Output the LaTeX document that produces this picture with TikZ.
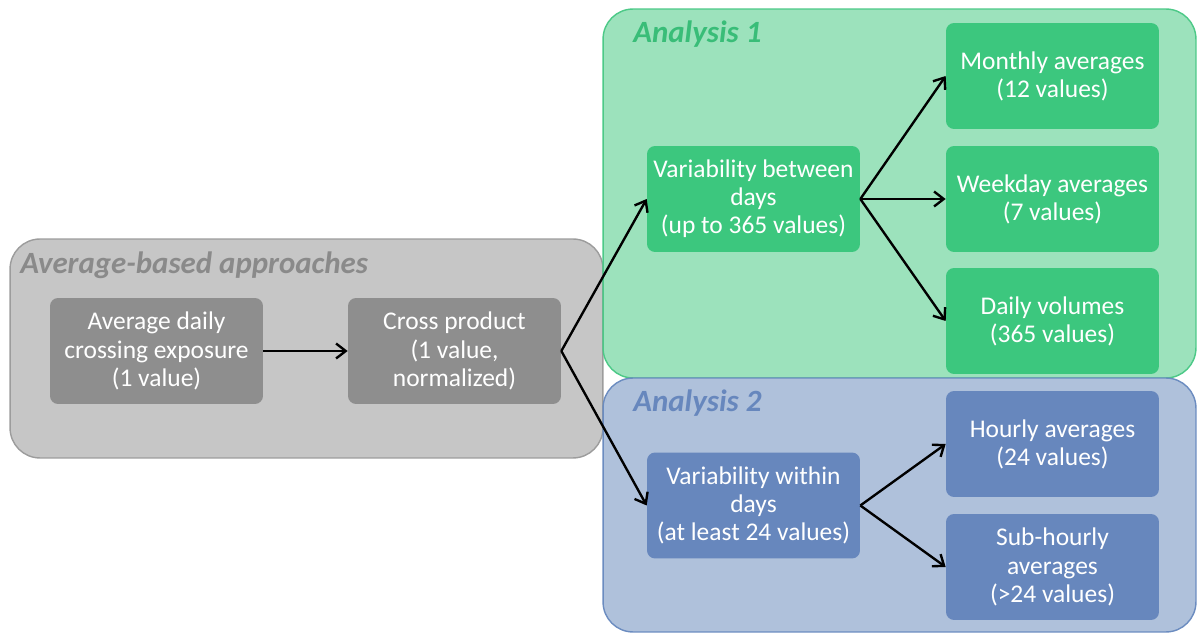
\documentclass[tikz,border=0pt]{standalone}
\usepackage{fontspec}
\setmainfont{Carlito}
\usepackage{xcolor}
\usepackage{tikz}
\usetikzlibrary{arrows.meta}

\definecolor{avgback}{HTML}{C6C6C6}
\definecolor{avgline}{HTML}{9C9C9C}
\definecolor{avgbox}{HTML}{8E8E8E}
\definecolor{avgtitle}{HTML}{8A8A8A}
\definecolor{onebox}{HTML}{3CC77E}
\definecolor{oneback}{HTML}{9CE2BC}
\definecolor{oneline}{HTML}{4CC987}
\definecolor{twobox}{HTML}{6787BD}
\definecolor{twoback}{HTML}{AFC1DB}
\definecolor{twoline}{HTML}{6B8CC0}

\begin{document}
\begin{tikzpicture}[x=0.02cm, y=-0.02cm,
    region/.style={draw, rounded corners=0.6cm, line width=0.8pt, inner sep=0pt, minimum width=11.86cm},
    box/.style={rounded corners=0.16cm, text=white, minimum width=4.26cm, minimum height=2.12cm,
      align=center, inner sep=2pt, font=\fontsize{14.5}{16}\selectfont},
    title/.style={anchor=west, inner sep=0pt, font=\fontsize{17.6}{20}\selectfont\bfseries\itshape},
    arr/.style={-{Straight Barb[length=5.5pt,width=8.5pt]}, line width=1.35pt}]
    \useasboundingbox (0,0) rectangle (1204,634);

    % the three regions
    \node(avg) at (306.5,348.5) [region, fill=avgback, draw=avgline, minimum height=4.38cm] {};
    \node(one) at (899.5,193.5) [region, fill=oneback, draw=oneline, minimum height=7.38cm] {};
    \node(two) at (899.5,505) [region, fill=twoback, draw=twoline, minimum height=5.08cm] {};
    \node(avgtitle) at (20,265) [title, text=avgtitle] {Average-based approaches};
    \node(onetitle) at (633,34) [title, text=onebox!95!black] {Analysis 1};
    \node(twotitle) at (633,403) [title, text=twobox] {Analysis 2};

    % boxes
    \node(daily) at (156.5,351) [box, fill=avgbox] {Average daily\\crossing exposure\\(1 value)};
    \node(cross) at (454.5,351) [box, fill=avgbox] {Cross product\\(1 value,\\normalized)};
    \node(between) at (753.5,199) [box, fill=onebox] {Variability between\\days\\(up to 365 values)};
    \node(monthly) at (1052.5,76) [box, fill=onebox] {Monthly averages\\(12 values)};
    \node(weekday) at (1052.5,199) [box, fill=onebox] {Weekday averages\\(7 values)};
    \node(volumes) at (1052.5,321) [box, fill=onebox] {Daily volumes\\(365 values)};
    \node(within) at (753.5,505.5) [box, fill=twobox] {Variability within\\days\\(at least 24 values)};
    \node(hourly) at (1052.5,444) [box, fill=twobox] {Hourly averages\\(24 values)};
    \node(subhourly) at (1052.5,567) [box, fill=twobox] {Sub-hourly\\averages\\(>24 values)};

    % arrows
    \draw [arr] (daily.east) -- (cross.west);
    \draw [arr] (cross.east) -- (between.west);
    \draw [arr] (cross.east) -- (within.west);
    \draw [arr] (between.east) -- (monthly.west);
    \draw [arr] (between.east) -- (weekday.west);
    \draw [arr] (between.east) -- (volumes.west);
    \draw [arr] (within.east) -- (hourly.west);
    \draw [arr] (within.east) -- (subhourly.west);
\end{tikzpicture}
\end{document}
